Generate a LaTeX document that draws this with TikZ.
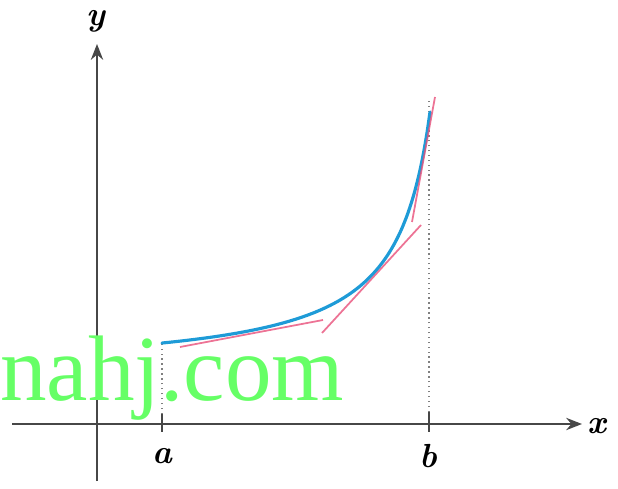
\documentclass[tikz,border=0pt]{standalone}
\usepackage{fontspec}
\newfontfamily\markfont{Liberation Serif}
\usepackage{tikz}
\usetikzlibrary{arrows.meta}

\begin{document}
\begin{tikzpicture}[x=0.02cm, y=-0.02cm,
    axis/.style={line width=1.1pt, color=black!72,
      -{Stealth[length=9pt, width=7pt]}},
    tick/.style={line width=1.4pt, color=black!72},
    guide/.style={dotted, line width=0.8pt, color=black!50},
    lbl/.style={font=\fontsize{19}{22}\selectfont\bfseries\itshape, inner sep=0pt},
  ]
  % Colour definitions
  \definecolor{curvecol}{HTML}{1E9BD7}   % graph of the function
  \definecolor{tancol}{HTML}{E8507A}     % tangent pieces
  \definecolor{markcol}{HTML}{66FF66}    % watermark

  \useasboundingbox (0,0) rectangle (618,489);

  % Axes
  \coordinate (o) at (97,424);
  \coordinate (xs) at (12,424);
  \coordinate (xe) at (582,424);
  \coordinate (ys) at (97,481);
  \coordinate (ye) at (97,44);
  \draw[axis] (xs) -- (xe);
  \draw[axis] (ys) -- (ye);
  \node[lbl] (xl) at (597,426) {x};
  \node[lbl] (yl) at (96,21) {y};

  % Ends of the interval
  \coordinate (a) at (162,424);
  \coordinate (b) at (429,424);
  \draw[tick] ([yshift=0.2cm]a) -- ([yshift=-0.16cm]a);
  \draw[tick] ([yshift=0.24cm]b) -- ([yshift=-0.16cm]b);
  \node[lbl] (al) at (162,456) {a};
  \node[lbl] (bl) at (428,456) {b};

  % Dotted guides up to the curve
  \coordinate (fa) at (162,343);
  \coordinate (fb) at (429,100);
  \draw[guide] ([yshift=0.2cm]a) -- (fa);
  \draw[guide] ([yshift=0.24cm]b) -- (fb);

  % The curve
  \draw[curvecol, line width=1.8pt, line cap=round]
    plot[domain=162:430, samples=90, smooth] (\x, {373.2 - 9141/(465-\x)});

  % Tangent pieces
  \coordinate (t1s) at (180,347);  \coordinate (t1e) at (323,320);
  \coordinate (t2s) at (322,333);  \coordinate (t2e) at (421,225);
  \coordinate (t3s) at (412,222);  \coordinate (t3e) at (435,97);
  \draw[tancol, line width=1pt, opacity=0.8] (t1s) -- (t1e);
  \draw[tancol, line width=1pt, opacity=0.8] (t2s) -- (t2e);
  \draw[tancol, line width=1pt, opacity=0.8] (t3s) -- (t3e);

  % Watermark
  \node[anchor=base west, inner sep=0pt, text=markcol,
    font=\markfont\fontsize{53}{60}\selectfont] (mark) at (0,400) {nahj.com};
\end{tikzpicture}
\end{document}
